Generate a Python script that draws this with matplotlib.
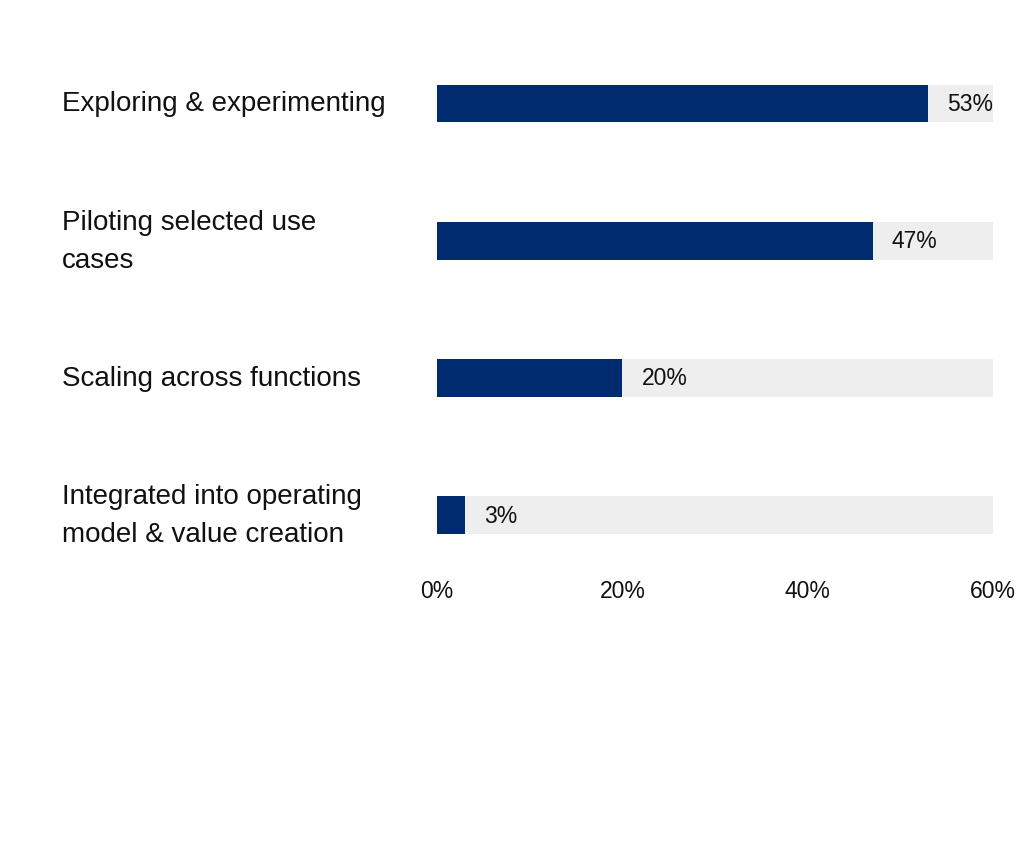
import matplotlib
matplotlib.use("Agg")
import matplotlib.pyplot as plt
import matplotlib.transforms as mtransforms

# Data
categories = [
    "Exploring & experimenting",
    "Piloting selected use\ncases",
    "Scaling across functions",
    "Integrated into operating\nmodel & value creation",
]
values = [53, 47, 20, 3]
axis_max = 60
tick_values = [0, 20, 40, 60]
tick_labels = ["0%", "20%", "40%", "60%"]

plt.rcParams['font.family'] = ['Liberation Sans', 'DejaVu Sans']

fig = plt.figure(figsize=(10.24, 8.53), dpi=100)
ax = fig.add_axes([0.4268, 0.3376, 0.9697 - 0.4268, 0.958 - 0.3376])

ypos = list(range(len(categories)))
bar_h = 0.276

# grey track behind each bar, then the value bar
ax.barh(ypos, [axis_max] * len(values), height=bar_h, color='#EEEEEE', zorder=1)
ax.barh(ypos, values, height=bar_h, color='#002B6E', zorder=2)

for y, v in zip(ypos, values):
    ax.annotate(f"{v}%", xy=(v, y), xytext=(14, 0), textcoords='offset points',
                ha='left', va='center', fontsize=16.5, color='#111111', zorder=3)

# category labels on the left: x in figure coords, y in data coords
label_tr = mtransforms.blended_transform_factory(fig.transFigure, ax.transData)
for y, c in zip(ypos, categories):
    ax.text(62 / 1024, y, c, transform=label_tr, ha='left', va='center',
            fontsize=20, color='#111111', linespacing=1.6)

ax.set_xlim(0, axis_max)
ax.set_ylim(3.356, -0.5)
ax.set_xticks(tick_values)
ax.set_xticklabels(tick_labels, fontsize=16.5, color='#111111')
ax.set_yticks([])
ax.tick_params(axis='x', length=0, pad=11)
for s in ax.spines.values():
    s.set_visible(False)

fig.savefig("out.png", dpi=100, facecolor='white')
